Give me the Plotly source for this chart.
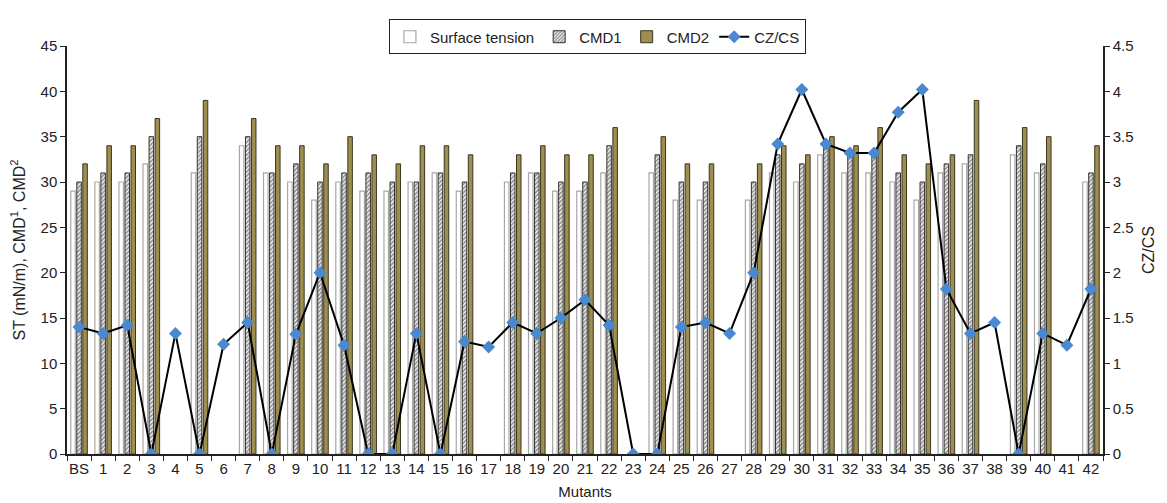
import plotly.graph_objects as go

categories = ["BS"] + [str(i) for i in range(1, 43)]

surface_tension = [29, 30, 30, 32, None, 31, None, 34, 31, 30,
                   28, 30, 29, 29, 30, 31, 29, None, 30, 31,
                   29, 29, 31, None, 31, 28, 28, None, 28, 31,
                   30, 33, 31, 31, 30, 28, 31, 32, None, 33,
                   31, None, 30]
cmd1 = [30, 31, 31, 35, None, 35, None, 35, 31, 32,
        30, 31, 31, 30, 30, 31, 30, None, 31, 31,
        30, 30, 34, None, 33, 30, 30, None, 30, 33,
        32, 34, 33, 33, 31, 30, 32, 33, None, 34,
        32, None, 31]
cmd2 = [32, 34, 34, 37, None, 39, None, 37, 34, 34,
        32, 35, 33, 32, 34, 34, 33, None, 33, 34,
        33, 33, 36, None, 35, 32, 32, None, 32, 34,
        33, 35, 34, 36, 33, 32, 33, 39, None, 36,
        35, None, 34]
cz_cs = [1.40, 1.33, 1.42, 0, 1.33, 0, 1.21, 1.45, 0, 1.32,
         2.0, 1.20, 0, 0, 1.33, 0, 1.24, 1.18, 1.45, 1.33,
         1.50, 1.70, 1.42, 0, 0, 1.40, 1.45, 1.33, 2.0, 3.42,
         4.02, 3.42, 3.32, 3.32, 3.77, 4.02, 1.82, 1.33, 1.45, 0,
         1.33, 1.20, 1.82]

fig = go.Figure()
fig.add_trace(go.Bar(
    x=categories, y=surface_tension, name="Surface tension",
    marker=dict(color="white", line=dict(color="#a8a8a8", width=1.2)),
))
fig.add_trace(go.Bar(
    x=categories, y=cmd1, name="CMD1",
    marker=dict(color="white", line=dict(color="#333333", width=1),
                pattern=dict(shape="/", fgcolor="#2a2a2a", bgcolor="white",
                             size=3, solidity=0.6)),
))
fig.add_trace(go.Bar(
    x=categories, y=cmd2, name="CMD2",
    marker=dict(color="#9e8e50", line=dict(color="#3b3520", width=1)),
))
fig.add_trace(go.Scatter(
    x=categories, y=cz_cs, name="CZ/CS", yaxis="y2", mode="lines+markers",
    line=dict(color="black", width=2),
    marker=dict(symbol="diamond", color="#4a88d0", size=10, line=dict(width=0)),
))

font = "Liberation Sans, Arial, sans-serif"
# page body has an 8px default margin; size/margins compensate for it
fig.update_layout(
    width=1159, height=495,
    margin=dict(l=59, r=64, t=29, b=49),
    paper_bgcolor="white", plot_bgcolor="white",
    font=dict(family=font, size=15, color="#222222"),
    barmode="group", bargap=0.25, bargroupgap=0.25,
    showlegend=True,
    legend=dict(orientation="h", x=0.512, xanchor="center", y=1.065, yanchor="top",
                bordercolor="#222222", borderwidth=1, bgcolor="white",
                font=dict(size=15), itemwidth=30),
    xaxis=dict(
        type="category", range=[-0.5, 42.5], tickson="boundaries",
        ticks="outside", ticklen=5, tickangle=0,
        tickcolor="#222222", showline=True, linecolor="#222222", linewidth=1.5,
        showgrid=False, title=dict(text="Mutants", standoff=11, font=dict(size=15)),
        tickfont=dict(size=15), automargin=False,
    ),
    yaxis=dict(
        range=[0, 45], dtick=5, ticks="outside", ticklen=5, tickcolor="#222222",
        showline=True, linecolor="#222222", linewidth=1.5, showgrid=False,
        zeroline=False, automargin=False,
        title=dict(text="ST (mN/m), CMD<sup>1</sup>, CMD<sup>2</sup>", standoff=12,
                   font=dict(size=16)),
    ),
    yaxis2=dict(
        range=[0, 4.5], dtick=0.5, overlaying="y", side="right",
        ticks="outside", ticklen=5, tickcolor="#222222",
        showline=True, linecolor="#222222", linewidth=1.5, showgrid=False,
        zeroline=False, automargin=False,
        title=dict(text="CZ/CS", standoff=10, font=dict(size=16)),
    ),
)

fig.write_html("out.html")
